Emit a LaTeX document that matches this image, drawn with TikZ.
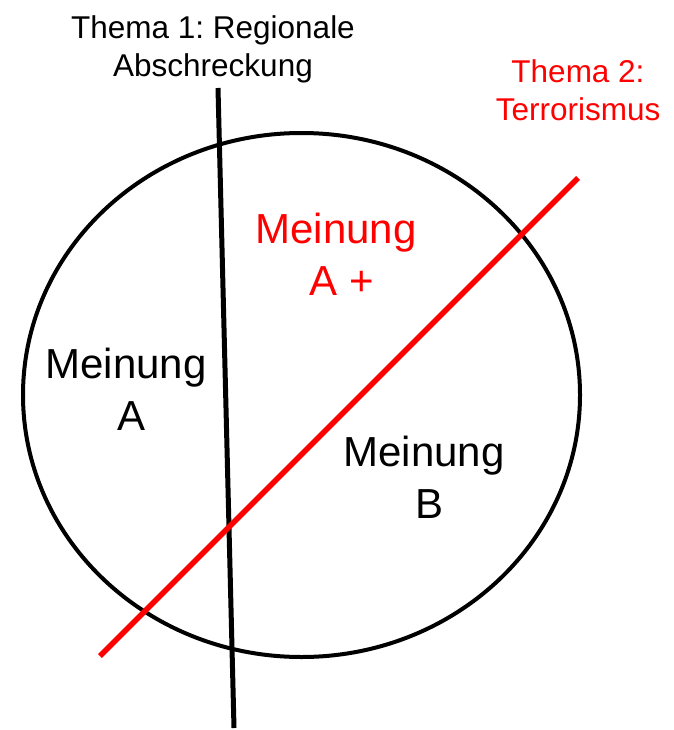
\documentclass[tikz,border=0pt]{standalone}
\usepackage{fontspec}
\setmainfont{Liberation Sans}
\usepackage{xcolor}
\usepackage{tikz}
\usetikzlibrary{positioning, calc}
\frenchspacing

\tikzset{
    themalabel/.style={align=center, inner sep=0pt, anchor=base,
        font=\fontsize{31.5}{38}\selectfont},
    opinionlabel/.style={align=center, inner sep=0pt, anchor=base,
        font=\fontsize{42}{52}\selectfont},
    themaline/.style={line width=5pt, line cap=butt},
}

\begin{document}
\begin{tikzpicture}[x=1pt, y=-1pt]

    \useasboundingbox (0,0) rectangle (673,730);

    % --- Opinion Space (Circle) ---
    \draw[line width=4pt] (301.5,395) ellipse [x radius=278.5, y radius=262];

    % --- Thema 1 Line (Black) ---
    \coordinate (t1top) at (218,88);
    \coordinate (t1bot) at (234,728);
    \draw[themaline] (t1top) -- (t1bot);

    % --- Thema 2 Line (Red) ---
    \coordinate (t2top) at (578,178);
    \coordinate (t2bot) at (100,656);
    \draw[themaline, red, line width=5.5pt] (t2bot) -- (t2top);

    % --- Theme Labels ---
    \node[themalabel] (thema1) at (213,76.5) {Thema 1: Regionale\\Abschreckung};
    \node[themalabel, red] (thema2) at (578,120.5) {Thema 2:\\Terrorismus};

    % --- Opinion Labels ---
    \node[opinionlabel] (meinungA) at (126,430) {Meinung\\\hspace*{0.28em}A};
    \node[opinionlabel, red] (meinungAplus) at (336,295) {Meinung\\\hspace*{0.28em}A +};
    \node[opinionlabel] (meinungB) at (424,518) {Meinung\\\hspace*{0.28em}B};

\end{tikzpicture}
\end{document}
